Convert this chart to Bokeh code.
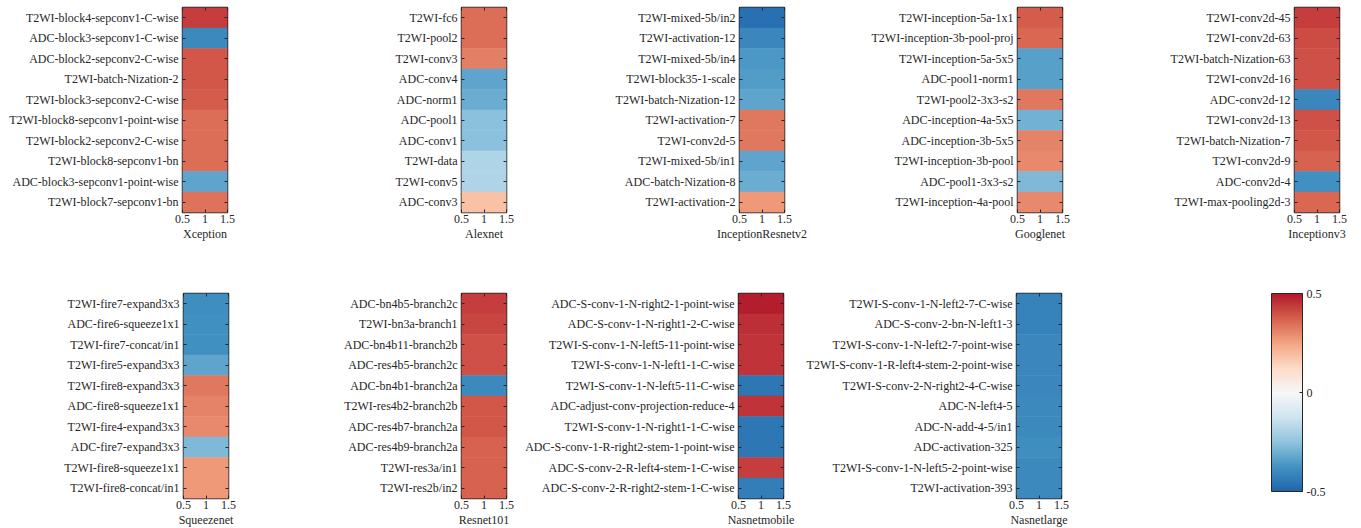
import numpy as np
from bokeh.plotting import figure
from bokeh.models import (ColumnDataSource, LinearColorMapper, ColorBar, FixedTicker,
                          Range1d, FactorRange, LinearAxis, CategoricalAxis)
from bokeh.layouts import column, row
from bokeh.embed import file_html
from bokeh.resources import INLINE

# ---------------- data ----------------
xception_labels = ["T2WI-block4-sepconv1-C-wise", "ADC-block3-sepconv1-C-wise", "ADC-block2-sepconv2-C-wise",
                   "T2WI-batch-Nization-2", "T2WI-block3-sepconv2-C-wise", "T2WI-block8-sepconv1-point-wise",
                   "T2WI-block2-sepconv2-C-wise", "T2WI-block8-sepconv1-bn", "ADC-block3-sepconv1-point-wise",
                   "T2WI-block7-sepconv1-bn"]
xception_values = [0.43, -0.40, 0.39, 0.39, 0.38, 0.35, 0.35, 0.35, -0.33, 0.34]

alexnet_labels = ["T2WI-fc6", "T2WI-pool2", "T2WI-conv3", "ADC-conv4", "ADC-norm1", "ADC-pool1",
                  "ADC-conv1", "T2WI-data", "T2WI-conv5", "ADC-conv3"]
alexnet_values = [0.35, 0.35, 0.32, -0.33, -0.31, -0.26, -0.26, -0.19, -0.19, 0.18]

incresv2_labels = ["T2WI-mixed-5b/in2", "T2WI-activation-12", "T2WI-mixed-5b/in4", "T2WI-block35-1-scale",
                   "T2WI-batch-Nization-12", "T2WI-activation-7", "T2WI-conv2d-5", "T2WI-mixed-5b/in1",
                   "ADC-batch-Nization-8", "T2WI-activation-2"]
incresv2_values = [-0.47, -0.41, -0.36, -0.35, -0.33, 0.33, 0.33, -0.33, -0.31, 0.27]

googlenet_labels = ["T2WI-inception-5a-1x1", "T2WI-inception-3b-pool-proj", "T2WI-inception-5a-5x5",
                    "ADC-pool1-norm1", "T2WI-pool2-3x3-s2", "ADC-inception-4a-5x5", "ADC-inception-3b-5x5",
                    "T2WI-inception-3b-pool", "ADC-pool1-3x3-s2", "T2WI-inception-4a-pool"]
googlenet_values = [0.38, 0.36, -0.34, -0.34, 0.33, -0.30, 0.31, 0.30, -0.28, 0.30]

incv3_labels = ["T2WI-conv2d-45", "T2WI-conv2d-63", "T2WI-batch-Nization-63", "T2WI-conv2d-16",
                "ADC-conv2d-12", "T2WI-conv2d-13", "T2WI-batch-Nization-7", "T2WI-conv2d-9",
                "ADC-conv2d-4", "T2WI-max-pooling2d-3"]
incv3_values = [0.43, 0.41, 0.40, 0.40, -0.41, 0.40, 0.39, 0.37, -0.38, 0.36]

squeeze_labels = ["T2WI-fire7-expand3x3", "ADC-fire6-squeeze1x1", "T2WI-fire7-concat/in1",
                  "T2WI-fire5-expand3x3", "T2WI-fire8-expand3x3", "ADC-fire8-squeeze1x1",
                  "T2WI-fire4-expand3x3", "ADC-fire7-expand3x3", "T2WI-fire8-squeeze1x1",
                  "T2WI-fire8-concat/in1"]
squeeze_values = [-0.39, -0.38, -0.38, -0.33, 0.33, 0.31, 0.30, -0.28, 0.27, 0.27]

resnet_labels = ["ADC-bn4b5-branch2c", "T2WI-bn3a-branch1", "ADC-bn4b11-branch2b", "ADC-res4b5-branch2c",
                 "ADC-bn4b1-branch2a", "T2WI-res4b2-branch2b", "ADC-res4b7-branch2a", "ADC-res4b9-branch2a",
                 "T2WI-res3a/in1", "T2WI-res2b/in2"]
resnet_values = [0.43, 0.42, 0.40, 0.40, -0.40, 0.39, 0.39, 0.37, 0.37, 0.37]

nasmob_labels = ["ADC-S-conv-1-N-right2-1-point-wise", "ADC-S-conv-1-N-right1-2-C-wise",
                 "T2WI-S-conv-1-N-left5-11-point-wise", "T2WI-S-conv-1-N-left1-1-C-wise",
                 "T2WI-S-conv-1-N-left5-11-C-wise", "ADC-adjust-conv-projection-reduce-4",
                 "T2WI-S-conv-1-N-right1-1-C-wise", "ADC-S-conv-1-R-right2-stem-1-point-wise",
                 "ADC-S-conv-2-R-left4-stem-1-C-wise", "ADC-S-conv-2-R-right2-stem-1-C-wise"]
nasmob_values = [0.49, 0.46, 0.45, 0.45, -0.45, 0.45, -0.45, -0.45, 0.43, -0.43]

naslarge_labels = ["T2WI-S-conv-1-N-left2-7-C-wise", "ADC-S-conv-2-bn-N-left1-3",
                   "T2WI-S-conv-1-N-left2-7-point-wise", "T2WI-S-conv-1-R-left4-stem-2-point-wise",
                   "T2WI-S-conv-2-N-right2-4-C-wise", "ADC-N-left4-5", "ADC-N-add-4-5/in1",
                   "ADC-activation-325", "T2WI-S-conv-1-N-left5-2-point-wise", "T2WI-activation-393"]
naslarge_values = [-0.42, -0.42, -0.41, -0.41, -0.41, -0.40, -0.40, -0.39, -0.40, -0.40]

x_ticks = [0.5, 1, 1.5]
cbar_ticks = [-0.5, 0, 0.5]
clim = (-0.5, 0.5)

# ---------------- styling ----------------
FONT = "'Liberation Serif', 'Times New Roman', serif"
FS = "12px"
DARK = "#262626"
anchors = ["#2166ac", "#4393c3", "#92c5de", "#d1e5f0", "#f7f7f7",
           "#fddbc7", "#f4a582", "#d6604d", "#b2182b"]
arr = np.array([[int(c[i:i + 2], 16) for i in (1, 3, 5)] for c in anchors], float)
pos = np.linspace(0, 1, len(anchors))
palette = ["#%02x%02x%02x" % tuple(int(round(np.interp(t, pos, arr[:, k]))) for k in range(3))
           for t in np.linspace(0, 1, 256)]
mapper = LinearColorMapper(palette=palette, low=clim[0], high=clim[1])

FW, FH = 45, 205


def style_axis(ax, labels=True):
    ax.axis_line_color = None
    ax.major_tick_in = 3
    ax.major_tick_out = 0
    ax.minor_tick_line_color = None
    ax.major_tick_line_color = DARK
    ax.major_label_text_font = FONT
    if labels:
        ax.major_label_text_color = DARK
        ax.major_label_text_font_size = FS
        ax.major_label_standoff = 4
    else:
        ax.major_label_text_color = None
        ax.major_label_text_font_size = "1px"
        ax.major_label_standoff = 0


def panel(name, labels, values, left, right, top, bottom):
    factors = list(reversed(labels))
    p = figure(x_range=Range1d(0.5, 1.5), y_range=FactorRange(factors=factors, range_padding=0),
               frame_width=FW, frame_height=FH, min_border_left=left, min_border_right=right,
               min_border_top=top, min_border_bottom=bottom, output_backend="svg",
               toolbar_location=None, x_axis_location=None, y_axis_location=None)
    src = ColumnDataSource(dict(x=[1] * len(labels), label=labels, value=values))
    p.rect(x="x", y="label", width=1, height=1, source=src,
           fill_color={"field": "value", "transform": mapper},
           line_color={"field": "value", "transform": mapper}, line_width=0.5)
    xb = LinearAxis(ticker=FixedTicker(ticks=x_ticks), axis_label=name,
                    major_label_overrides={0.5: "0.5", 1: "1", 1.5: "1.5"})
    style_axis(xb)
    xb.major_label_standoff = 2
    xb.axis_label_text_font = FONT
    xb.axis_label_text_font_size = FS
    xb.axis_label_text_font_style = "normal"
    xb.axis_label_text_color = DARK
    xb.axis_label_standoff = 1
    p.add_layout(xb, "below")
    xt = LinearAxis(ticker=FixedTicker(ticks=x_ticks))
    style_axis(xt, labels=False)
    p.add_layout(xt, "above")
    yl = CategoricalAxis()
    style_axis(yl)
    p.add_layout(yl, "left")
    yr = CategoricalAxis()
    style_axis(yr, labels=False)
    p.add_layout(yr, "right")
    p.grid.visible = False
    p.outline_line_color = DARK
    p.outline_line_width = 1.5
    p.background_fill_color = "white"
    p.border_fill_color = "white"
    return p


T1, B1 = 7, 73
T2, B2 = 8, 30
row1 = [
    panel("Xception", xception_labels, xception_values, 182, 12, T1, B1),
    panel("Alexnet", alexnet_labels, alexnet_values, 222, 12, T1, B1),
    panel("InceptionResnetv2", incresv2_labels, incresv2_values, 221, 30, T1, B1),
    panel("Googlenet", googlenet_labels, googlenet_values, 203, 12, T1, B1),
    panel("Inceptionv3", incv3_labels, incv3_values, 220, 22, T1, B1),
]
row2 = [
    panel("Squeezenet", squeeze_labels, squeeze_values, 183, 11, T2, B2),
    panel("Resnet101", resnet_labels, resnet_values, 222, 12, T2, B2),
    panel("Nasnetmobile", nasmob_labels, nasmob_values, 220, 17, T2, B2),
    panel("Nasnetlarge", naslarge_labels, naslarge_values, 216, 11, T2, B2),
]

# colour bar panel
cbp = figure(frame_width=289, frame_height=FH, min_border_left=0, min_border_right=0,
             min_border_top=T2, min_border_bottom=B2, output_backend="svg", toolbar_location=None,
             x_axis_location=None, y_axis_location=None)
cbp.outline_line_color = None
cbp.grid.visible = False
cb = ColorBar(color_mapper=mapper, ticker=FixedTicker(ticks=cbar_ticks),
              major_label_overrides={-0.5: "-0.5", 0: "0", 0.5: "0.5"},
              width=31, height=198, location=(199, FH - 198), padding=0, margin=0,
              bar_line_color=DARK, bar_line_width=1,
              major_tick_in=3, major_tick_out=0, major_tick_line_color=DARK,
              minor_tick_line_color=None, major_label_text_font=FONT,
              major_label_text_font_size=FS, major_label_text_color=DARK,
              label_standoff=4, background_fill_alpha=0, border_line_color=None)
cbp.add_layout(cb, "center")
row2.append(cbp)

layout = column(row(*row1, spacing=0), row(*row2, spacing=0), spacing=0)
with open("out.html", "w") as f:
    f.write(file_html(layout, INLINE))
